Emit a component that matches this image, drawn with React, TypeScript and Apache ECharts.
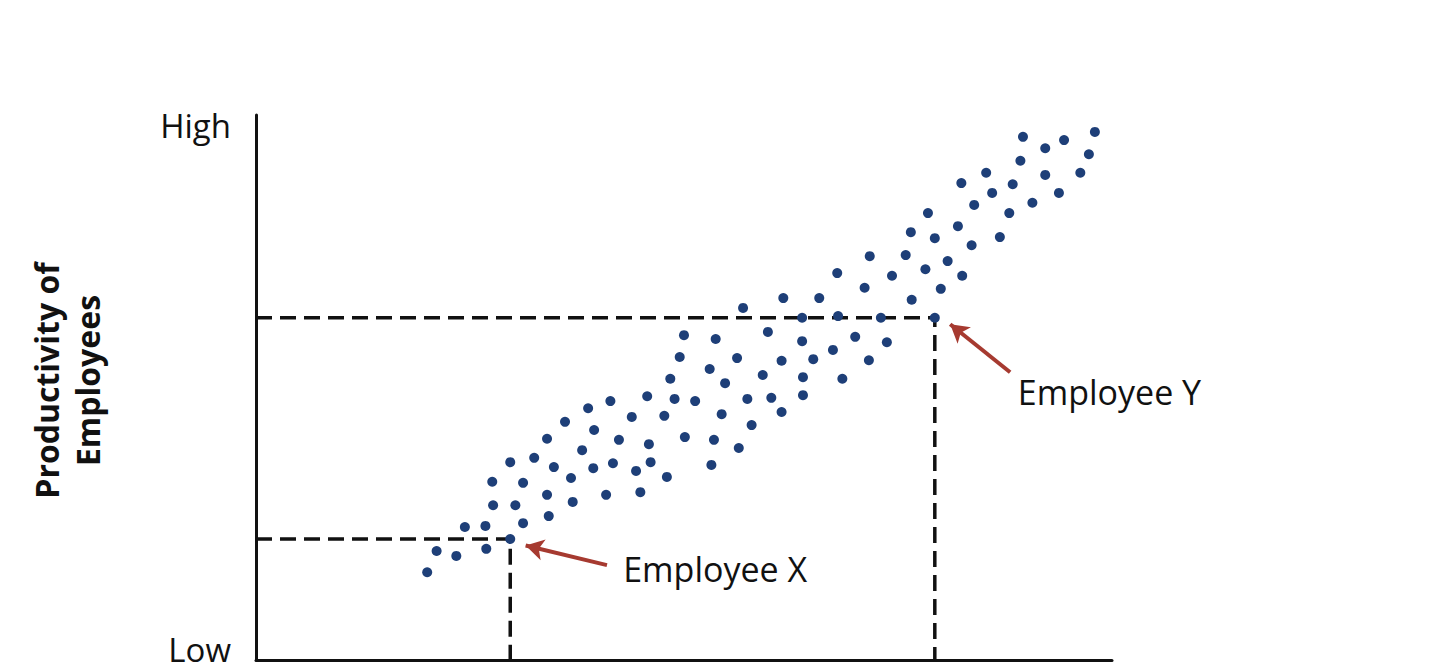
import { useRef, useEffect } from "react";
import * as echarts from "echarts";

// dots: [x, y] on a hidden 0-100 scale (x = experience/skill, y = productivity)
const dotsX = [
    41.4, 38.8, 43.9, 36.1, 39.5, 34.0, 42.4, 38.1, 29.7, 32.5, 34.8, 39.4, 41.7, 44.4, 27.6, 31.2,
    36.8, 34.0, 37.0, 40.9, 44.9, 27.7, 30.3, 31.2, 34.2, 24.4, 26.8, 29.7, 21.1, 23.4, 26.9, 20.0,
    61.6, 65.8, 56.9, 63.8, 68.0, 50.0, 53.7, 59.8, 63.8, 49.5, 56.2, 61.4, 65.1, 67.4, 53.0, 59.2,
    63.9, 48.4, 54.8, 68.5, 45.7, 48.9, 51.3, 57.4, 60.2, 63.9, 47.7, 54.4, 61.4, 57.9, 50.1, 53.5,
    45.9, 56.4, 46.1, 53.2, 48.0,
    86.0, 83.9, 88.0, 78.5, 82.0, 76.5, 79.3, 86.9, 83.6, 71.7, 75.9, 80.8, 67.9, 74.3, 78.2, 82.5,
    71.1, 80.0, 76.6, 73.0, 79.3, 70.0, 73.7, 71.6,
    89.6, 98.0, 92.2, 94.4, 97.3, 89.3, 85.3, 92.2, 96.3, 82.4, 88.4, 93.8, 90.7,
];
const dotsY = [
    47.5, 46.2, 44.6, 43.7, 42.2, 40.6, 40.4, 38.5, 36.3, 37.1, 35.4, 35.2, 36.1, 34.7, 32.7, 32.5,
    33.4, 30.3, 29.0, 30.3, 30.8, 28.4, 28.4, 25.1, 26.4, 24.4, 24.6, 22.2, 20.0, 19.1, 20.4, 16.1,
    66.4, 66.4, 64.6, 62.8, 63.1, 59.6, 58.9, 60.2, 58.5, 55.6, 55.4, 54.9, 55.2, 56.9, 53.4, 52.3,
    51.9, 51.6, 50.8, 51.6, 48.4, 47.9, 47.5, 47.9, 48.1, 48.6, 44.8, 45.1, 45.5, 43.1, 40.9, 40.4,
    39.6, 38.9, 36.3, 35.8, 33.6,
    85.7, 83.5, 82.0, 82.0, 79.6, 78.5, 77.4, 77.6, 76.1, 74.1, 74.3, 73.2, 71.0, 70.5, 71.7, 70.5,
    68.3, 68.1, 66.1, 62.8, 62.8, 59.3, 58.3, 55.0,
    96.0, 96.9, 93.9, 95.4, 92.8, 91.6, 89.4, 89.0, 89.4, 87.5, 87.3, 85.7, 83.9,
];

const employeeNames = ["Employee X", "Employee Y"];
const employeeX = [29.7, 79.3];
const employeeY = [22.2, 62.8];
// where each arrow starts (tail) and where its note sits
const arrowTailX = [41.0, 88.1];
const arrowTailY = [17.4, 52.8];
const arrowCurve = [0.08, -0.35];
const noteX = [42.9, 89.0];
const noteY = [16.7, 49.2];

const yTicks = [2, 98];
const yTickLabels = ["Low", "High"];

const FONT = "'Open Sans', 'Noto Sans', sans-serif";
const INK = "#111";

function App() {
    const chartRef = useRef<HTMLDivElement | null>(null);

    useEffect(() => {
        if (!chartRef.current) return;
        const chart = echarts.init(chartRef.current, null, { renderer: "svg" });

        const dashed = employeeNames.map((name, i) => ({
            name: name + " guide",
            type: "line",
            data: [
                [0, employeeY[i]],
                [employeeX[i], employeeY[i]],
                [employeeX[i], 0],
            ],
            symbol: "none",
            silent: true,
            z: 1,
            lineStyle: { color: "#111", width: 3.5, type: [16, 8] },
        }));

        chart.setOption({
            animation: false,
            backgroundColor: "#fff",
            grid: { left: 256, right: 328, top: 115, bottom: 11 },
            xAxis: {
                type: "value",
                min: 0,
                max: 100,
                axisLine: { show: true, lineStyle: { color: "#111", width: 3 } },
                axisTick: { show: false },
                axisLabel: { show: false },
                splitLine: { show: false },
            },
            yAxis: {
                type: "value",
                min: 0,
                max: 100,
                name: "Productivity of\nEmployees",
                nameLocation: "middle",
                nameRotate: 90,
                nameGap: 148,
                nameTextStyle: {
                    fontFamily: FONT,
                    fontSize: 32,
                    fontWeight: "bold",
                    color: INK,
                    lineHeight: 41,
                    padding: [0, 0, 0, 14],
                },
                axisLine: { show: true, lineStyle: { color: "#111", width: 3 } },
                axisTick: { show: false },
                axisLabel: {
                    customValues: yTicks,
                    formatter: (v: number) => yTickLabels[yTicks.indexOf(v)] ?? "",
                    margin: 25,
                    fontFamily: FONT,
                    fontSize: 33,
                    color: INK,
                },
                splitLine: { show: false },
            },
            series: [
                ...dashed,
                {
                    name: "Employees",
                    type: "scatter",
                    data: dotsX.map((x, i) => [x, dotsY[i]]),
                    symbolSize: 10,
                    z: 3,
                    itemStyle: { color: "#1e3f78", opacity: 1 },
                    markLine: {
                        silent: true,
                        symbol: ["none", "arrow"],
                        symbolSize: [16, 18],
                        label: { show: false },
                        lineStyle: { color: "#a63a30", width: 4, type: "solid" },
                        data: employeeNames.map((_, i) => [
                            { coord: [arrowTailX[i], arrowTailY[i]], lineStyle: { curveness: arrowCurve[i] } },
                            { coord: [employeeX[i] + 1.8, employeeY[i] - 1.2] },
                        ]),
                    },
                },
                {
                    name: "Notes",
                    type: "scatter",
                    data: employeeNames.map((n, i) => ({ name: n, value: [noteX[i], noteY[i]] })),
                    symbolSize: 0,
                    silent: true,
                    itemStyle: { opacity: 1 },
                    label: {
                        show: true,
                        position: "right",
                        distance: 0,
                        formatter: "{b}",
                        fontFamily: FONT,
                        fontSize: 34,
                        color: INK,
                        opacity: 1,
                    },
                },
            ],
        });

        const handleResize = () => chart.resize();
        window.addEventListener("resize", handleResize);
        return () => {
            window.removeEventListener("resize", handleResize);
            chart.dispose();
        };
    }, []);

    return (
        <div
            ref={chartRef}
            style={{ position: "absolute", left: 0, top: 0, width: "1440px", height: "671px", background: "#fff" }}
        />
    );
}

export default App;
